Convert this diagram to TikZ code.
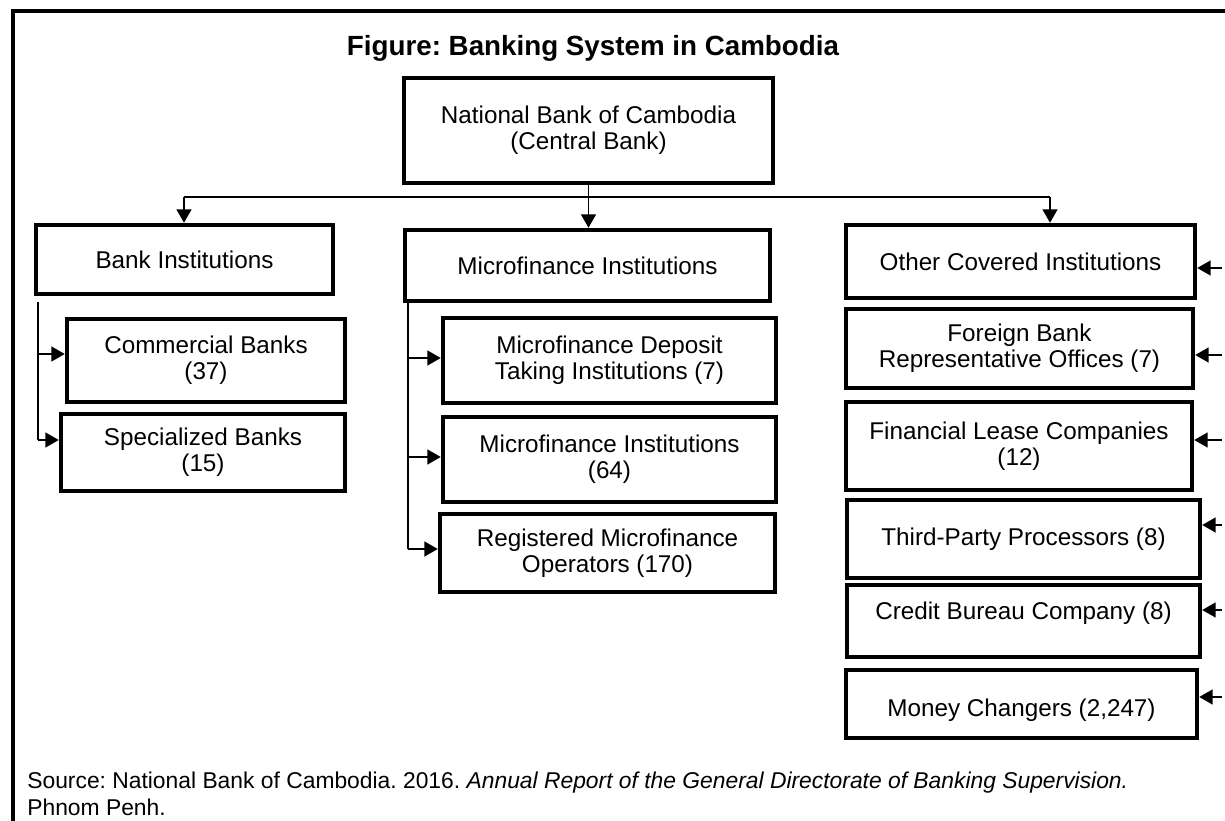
\documentclass[tikz,border=0pt]{standalone}
\usepackage{fontspec}
\setmainfont{Liberation Sans}
\usetikzlibrary{arrows.meta}
\frenchspacing

\begin{document}
\begin{tikzpicture}[x=0.02cm, y=-0.02cm, inst node/.style={shape=rectangle, draw, line width=0.09cm, align=center, inner sep=0pt, font=\fontsize{13.8}{14.8}\selectfont}, link/.style={line width=0.035cm}, arr/.style={link, -{Triangle[length=0.27cm, width=0.3cm]}}]
\useasboundingbox (0,0) rectangle (1225,821);
% outer frame, runs off the page on the right and at the bottom
\draw[line width=0.07cm] (13,840) -- (13,11) -- (1240,11);
\node[font=\bfseries\fontsize{15.8}{19}\selectfont] (title) at (593,48) {Figure: Banking System in Cambodia};

% central bank and the three groups
\node[inst node, minimum width=7.38cm, minimum height=2.1cm] (nbc) at (588.5,130.5) {National Bank of Cambodia\\(Central Bank)};
\node[inst node, minimum width=5.94cm, minimum height=1.38cm] (bank) at (184.5,259.5) {Bank Institutions};
\node[inst node, minimum width=7.3cm, minimum height=1.42cm] (micro) at (587.5,265.5) {Microfinance Institutions};
\node[inst node, minimum width=6.98cm, minimum height=1.46cm] (other) at (1020.5,261.5) {Other Covered Institutions};

% banks
\node[inst node, minimum width=5.56cm, minimum height=1.66cm] (commercial) at (206,360.5) {Commercial Banks\\(37)};
\node[inst node, minimum width=5.68cm, minimum height=1.54cm] (specialized) at (203,452.5) {Specialized Banks\\(15)};

% microfinance
\node[inst node, minimum width=6.66cm, minimum height=1.7cm] (mdti) at (609.5,360.5) {Microfinance Deposit\\Taking Institutions (7)};
\node[inst node, minimum width=6.66cm, minimum height=1.7cm] (mfi) at (609.5,459.5) {Microfinance Institutions\\(64)};
\node[inst node, minimum width=6.7cm, minimum height=1.56cm] (rmo) at (607.5,553) {Registered Microfinance\\Operators (170)};

% other covered institutions
\node[inst node, minimum width=6.94cm, minimum height=1.58cm] (foreign) at (1019.5,348.5) {Foreign Bank\\Representative Offices (7)};
\node[inst node, minimum width=6.92cm, minimum height=1.76cm] (lease) at (1019,446) {Financial Lease Companies\\(12)};
\node[inst node, minimum width=7.06cm, minimum height=1.56cm] (tpp) at (1023.5,539) {Third-Party Processors (8)};
\node[inst node, minimum width=7.06cm, minimum height=1.44cm, text depth=0.4cm] (credit) at (1023.5,621) {Credit Bureau Company (8)};
\node[inst node, minimum width=7.02cm, minimum height=1.36cm, text height=0.62cm] (money) at (1021.5,704) {Money Changers (2,247)};

\node[anchor=west, align=left, inner sep=0pt, font=\fontsize{13}{15.2}\selectfont] (source) at (27,794) {Source: National Bank of Cambodia. 2016. \textit{Annual Report of the General Directorate of Banking Supervision.}\\Phnom Penh.};

% top split
\coordinate (hl) at (184,197);
\coordinate (hr) at (1050,197);
\draw[link] (hl) -- (hr);
\draw[arr] (nbc.south) -- (nbc.south |- micro.north);
\draw[arr] (hl) -- (hl |- bank.north);
\draw[arr] (hr) -- (hr |- other.north);

% bank rail
\coordinate (bt) at (38,302);
\coordinate (b1) at (38,354);
\coordinate (b2) at (38,440);
\draw[link] (bt) -- (b2);
\draw[arr] (b1) -- (b1 -| commercial.west);
\draw[arr] (b2) -- (b2 -| specialized.west);

% microfinance rail
\coordinate (mt) at (408,303);
\coordinate (m1) at (408,358);
\coordinate (m2) at (408,457);
\coordinate (m3) at (408,549);
\draw[link] (mt) -- (m3);
\draw[arr] (m1) -- (m1 -| mdti.west);
\draw[arr] (m2) -- (m2 -| mfi.west);
\draw[arr] (m3) -- (m3 -| rmo.west);

% arrows coming in from the right
\coordinate (r1) at (1222,268);
\coordinate (r2) at (1222,355);
\coordinate (r3) at (1222,440);
\coordinate (r4) at (1222,525);
\coordinate (r5) at (1222,610);
\coordinate (r6) at (1222,697);
\draw[arr] (r1) -- (r1 -| other.east);
\draw[arr] (r2) -- (r2 -| foreign.east);
\draw[arr] (r3) -- (r3 -| lease.east);
\draw[arr] (r4) -- (r4 -| tpp.east);
\draw[arr] (r5) -- (r5 -| credit.east);
\draw[arr] (r6) -- (r6 -| money.east);
\end{tikzpicture}
\end{document}
